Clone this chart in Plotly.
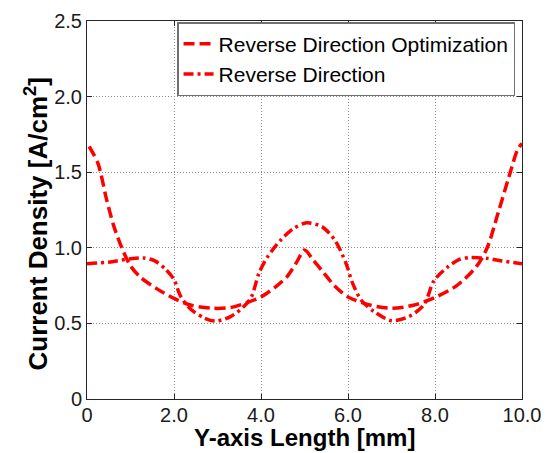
import plotly.graph_objects as go

# Data
opt_x = [0.05, 0.25, 0.45, 0.62, 0.8, 1.0, 1.25, 1.6, 2.0, 2.4, 2.9, 3.3, 3.7, 4.0, 4.35, 4.6, 4.82, 5.0,
         5.2, 5.4, 5.7, 6.0, 6.5, 7.0, 7.5, 8.0, 8.5, 8.95, 9.2, 9.45, 9.7, 9.9, 10.0]
opt_y = [1.67, 1.56, 1.32, 1.14, 1.0, 0.88, 0.80, 0.73, 0.665, 0.62, 0.60, 0.605, 0.64, 0.675, 0.745, 0.81, 0.905, 0.985,
         0.92, 0.85, 0.745, 0.675, 0.622, 0.60, 0.62, 0.672, 0.75, 0.875, 1.0, 1.23, 1.47, 1.65, 1.69]

rev_x = [0.0, 0.5, 1.0, 1.3, 1.55, 1.8, 2.0, 2.15, 2.4, 2.7, 2.95, 3.3, 3.6, 3.78, 3.95, 4.15, 4.45, 4.75, 5.05,
         5.4, 5.7, 5.95, 6.1, 6.3, 6.6, 7.0, 7.4, 7.75, 7.98, 8.3, 8.55, 8.8, 9.2, 9.5, 10.0]
rev_y = [0.895, 0.905, 0.928, 0.933, 0.915, 0.86, 0.79, 0.68, 0.59, 0.535, 0.515, 0.545, 0.61, 0.675, 0.83, 0.94, 1.05, 1.128, 1.165,
         1.14, 1.05, 0.9, 0.77, 0.655, 0.578, 0.518, 0.545, 0.625, 0.785, 0.875, 0.922, 0.936, 0.93, 0.915, 0.895]

x_ticks = [0, 2, 4, 6, 8, 10]
x_ticklabels = ["0", "2.0", "4.0", "6.0", "8.0", "10.0"]
y_ticks = [0, 0.5, 1.0, 1.5, 2.0, 2.5]
y_ticklabels = ["0", "0.5", "1.0", "1.5", "2.0", "2.5"]

x_title = "<b>Y-axis Length [mm]</b>"
y_title = "<b>Current Density [A/cm<sup>2</sup>]</b>"

FONT = "Liberation Sans, Arial, sans-serif"

fig = go.Figure()
fig.add_trace(go.Scatter(
    x=opt_x, y=opt_y, mode="lines", name="Reverse Direction Optimization",
    line=dict(color="#ff0000", width=3.5, dash="11px,5px", shape="spline", smoothing=0.8),
))
fig.add_trace(go.Scatter(
    x=rev_x, y=rev_y, mode="lines", name="Reverse Direction",
    line=dict(color="#ff0000", width=3.5, dash="10px,4px,3px,4px", shape="spline", smoothing=0.8),
))

axis_common = dict(
    showline=True, linecolor="#262626", linewidth=1, mirror="ticks",
    ticks="inside", ticklen=5, tickcolor="#262626", tickwidth=1,
    showgrid=True, gridcolor="#8a8a8a", gridwidth=1, griddash="1px,2px",
    zeroline=False, tickfont=dict(family=FONT, size=20, color="#1a1a1a"),
)

fig.update_xaxes(range=[0, 10], tickvals=x_ticks, ticktext=x_ticklabels, ticklabelstandoff=-2, **axis_common)
fig.update_yaxes(range=[0, 2.5], tickvals=y_ticks, ticktext=y_ticklabels, **axis_common)

# Axis titles as annotations for precise placement
fig.add_annotation(
    text=x_title, xref="paper", yref="paper", x=0.5, y=0, xanchor="center", yanchor="top",
    yshift=-23, showarrow=False, font=dict(family=FONT, size=24, color="#000"),
)
fig.add_annotation(
    text=y_title, xref="paper", yref="paper", x=0, y=0.463, xanchor="right", yanchor="middle",
    xshift=-31, textangle=-90, showarrow=False, font=dict(family=FONT, size=26, color="#000"),
)

fig.update_layout(
    width=553, height=453,
    margin=dict(l=86.5, r=30.5, t=21, b=54, autoexpand=False),
    paper_bgcolor="white", plot_bgcolor="white",
    showlegend=True,
    legend=dict(
        x=0.207, y=0.997, xanchor="left", yanchor="top",
        bgcolor="white", bordercolor="#707070", borderwidth=1.5,
        font=dict(family=FONT, size=21, color="#000"),
        itemwidth=30, tracegroupgap=0,
    ),
)

fig.write_html("out.html")
